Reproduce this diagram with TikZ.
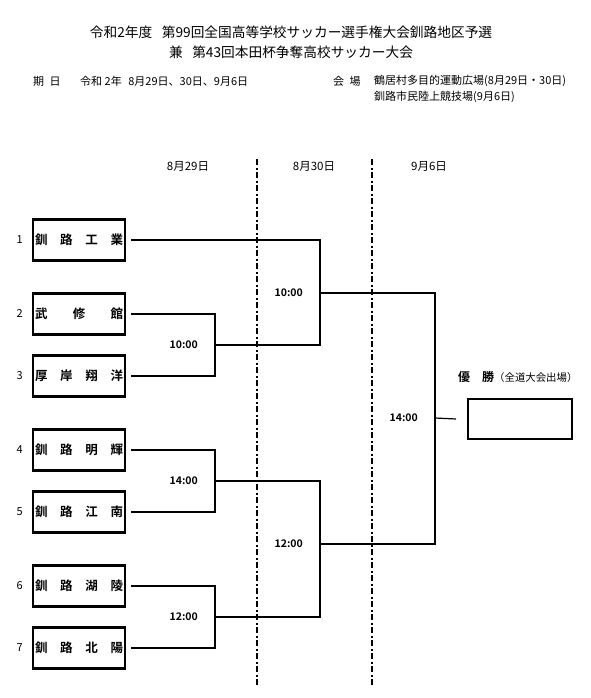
\documentclass[tikz,border=0pt]{standalone}
\usepackage{fontspec}
\setmainfont{Noto Sans CJK JP}[BoldFont={Noto Sans CJK JP Bold}]
\usetikzlibrary{positioning}
\tikzset{
    team/.style={draw,line width=2.4pt,outer sep=0pt,inner sep=0pt,
        minimum width=92pt,minimum height=41pt,font=\fontsize{12.5}{14}\selectfont\bfseries},
    seed/.style={inner sep=0pt,font=\fontsize{11}{12}\selectfont},
    kickoff/.style={inner sep=0pt,font=\fontsize{10.5}{12}\selectfont\bfseries},
    dayhead/.style={font=\fontsize{11.5}{13}\selectfont},
    info/.style={anchor=west,inner sep=0pt,font=\fontsize{11}{13}\selectfont},
    wire/.style={line width=1.2pt},
    daydiv/.style={line width=1.6pt,dash pattern=on 6pt off 2.5pt on 2pt off 2.5pt}
}
\newcommand{\spreadname}[1]{\makebox[88pt][s]{#1}}

\begin{document}
\begin{tikzpicture}[x=1pt,y=-1pt]
    \useasboundingbox (0,0) rectangle (591,698);
    % title
    \node[font=\fontsize{13.7}{16}\selectfont] (title1) at (291,32)
        {令和2年度\hspace{0.7em}第99回全国高等学校サッカー選手権大会釧路地区予選};
    \node[font=\fontsize{13.7}{16}\selectfont] (title2) at (291,52)
        {兼\hspace{0.7em}第43回本田杯争奪高校サッカー大会};
    \node[info] (datekey)  at (33,81)  {期\hspace{0.5em}日};
    \node[info] (dates)    at (80,81)  {令和 2年\hspace{0.6em}8月29日、30日、9月6日};
    \node[info] (venuekey) at (333,81) {会\hspace{0.5em}場};
    \node[info] (venue1)   at (374,81) {鶴居村多目的運動広場(8月29日・30日)};
    \node[info] (venue2)   at (374,97) {釧路市民陸上競技場(9月6日)};

    % days
    \node[dayhead] (day1) at (188,166) {8月29日};
    \node[dayhead] (day2) at (314,166) {8月30日};
    \node[dayhead] (day3) at (429,166) {9月6日};
    \draw[daydiv] (257,159) -- (257,686);
    \draw[daydiv] (372,159) -- (372,686);

    % teams
    \node[team] (t1) at (79,240) {\spreadname{釧\hfill 路\hfill 工\hfill 業}};
    \node[team] (t2) [below=33pt of t1] {\spreadname{武\hfill 修\hfill 館}};
    \node[team] (t3) [below=21pt of t2] {\spreadname{厚\hfill 岸\hfill 翔\hfill 洋}};
    \node[team] (t4) [below=33pt of t3] {\spreadname{釧\hfill 路\hfill 明\hfill 輝}};
    \node[team] (t5) [below=21pt of t4] {\spreadname{釧\hfill 路\hfill 江\hfill 南}};
    \node[team] (t6) [below=33pt of t5] {\spreadname{釧\hfill 路\hfill 湖\hfill 陵}};
    \node[team] (t7) [below=21pt of t6] {\spreadname{釧\hfill 路\hfill 北\hfill 陽}};
    \foreach \i in {1,...,7}
        \node[seed,left=10pt of t\i] (n\i) {\i};

    % match points
    \coordinate (m1) at (215,345);
    \coordinate (m2) at (215,481);
    \coordinate (m3) at (215,617);
    \coordinate (s1) at (320,293);
    \coordinate (s2) at (320,544);
    \coordinate (f)  at (435,418);

    \node[team,minimum width=104pt,minimum height=40pt] (w) at (520,419) {};
    \node[anchor=west,inner sep=0pt,font=\fontsize{12}{14}\selectfont\bfseries] (champ) at (458,377)
        {優　勝{\mdseries\fontsize{10.4}{12}\selectfont （全道大会出場）}};

    \draw[wire] ([xshift=6pt]t2.east) -| (m1) |- ([xshift=6pt]t3.east);
    \draw[wire] ([xshift=6pt]t4.east) -| (m2) |- ([xshift=6pt]t5.east);
    \draw[wire] ([xshift=6pt]t6.east) -| (m3) |- ([xshift=6pt]t7.east);
    \draw[wire] ([xshift=6pt]t1.east) -| (s1) |- (m1);
    \draw[wire] (m2) -| (s2) |- (m3);
    \draw[wire] (s1) -| (f) |- (s2);
    \draw[wire] (f) -- ([xshift=-12pt]w.west);

    % kick-off times
    \node[kickoff,left=17pt of m1] (k1) {10:00};
    \node[kickoff,left=17pt of m2] (k2) {14:00};
    \node[kickoff,left=17pt of m3] (k3) {12:00};
    \node[kickoff,left=17pt of s1] (k4) {10:00};
    \node[kickoff,left=17pt of s2] (k5) {12:00};
    \node[kickoff,left=17pt of f]  (k6) {14:00};
\end{tikzpicture}
\end{document}
